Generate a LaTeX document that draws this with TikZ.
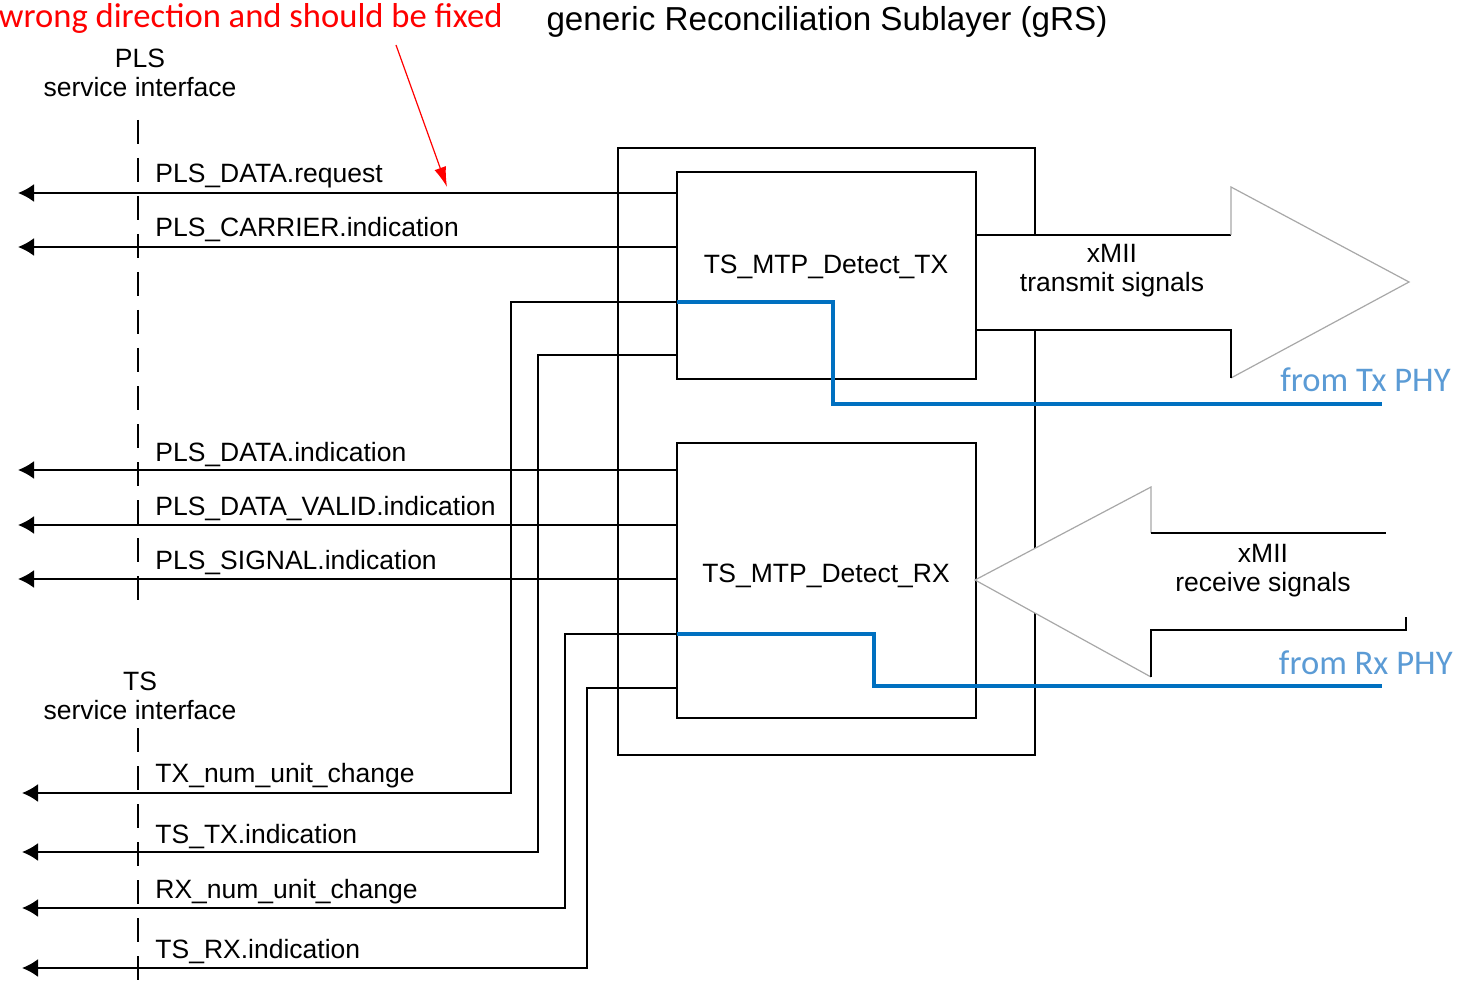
\documentclass[tikz,border=0pt]{standalone}
\usepackage{fontspec}
\usetikzlibrary{arrows.meta}
\newfontfamily\arialf{Liberation Sans}
\newfontfamily\calf{Carlito}
\newcommand\labfont{\arialf\fontsize{13.25}{14.5}\selectfont}
\newcommand\titfont{\arialf\fontsize{16.6}{19}\selectfont}
\newcommand\notefont{\calf\fontsize{17.3}{20}\selectfont}
\definecolor{lineblue}{HTML}{0070C0}
\definecolor{textblue}{HTML}{5B9BD5}
\definecolor{edgegray}{HTML}{A8A8A8}
\tikzset{
  lbl/.style={font=\labfont, inner sep=0pt, anchor=base west},
  ctr/.style={font=\labfont, inner sep=0pt, align=center},
  sig/.style={line width=1pt, -{Latex[length=8pt,width=9pt]}},
  wire/.style={line width=1pt},
  bluewire/.style={line width=1.7pt, color=lineblue},
  blk/.style={draw, line width=1pt, inner sep=0pt, minimum width=149.5pt},
  grayedge/.style={line width=0.6pt, color=edgegray},
  dashv/.style={line width=1pt, dash pattern=on 12pt off 7pt},
}
\begin{document}
\begin{tikzpicture}[x=0.5pt,y=-0.5pt]
\useasboundingbox (0,0) rectangle (1460,989);

% outer frame
\draw[wire] (618,148) rectangle (1035,755);

% arrow bodies (white fill hides the frame)
\fill[white] (976,235) -- (1231,235) -- (1231,187) -- (1409,282) -- (1231,378) -- (1231,330) -- (976,330) -- cycle;
\fill[white] (975,580) -- (1151,487) -- (1151,533) -- (1400,533) -- (1400,630) -- (1151,630) -- (1151,677) -- cycle;

% blocks
\node[blk, minimum height=103.5pt] (txbox) at (826.5,275.5) {};
\node[blk, minimum height=137.5pt] (rxbox) at (826.5,580.5) {};
\node[font=\labfont, inner sep=0pt] (txlbl) at (826,267) {TS\_MTP\_Detect\_TX};
\node[font=\labfont, inner sep=0pt] (rxlbl) at (826,576) {TS\_MTP\_Detect\_RX};

% arrow outlines
\draw[wire] (976,235) -- (1231,235);
\draw[grayedge] (1231,235) -- (1231,187) -- (1409,282) -- (1231,378);
\draw[wire] (1231,378) -- (1231,330) -- (976,330);
\draw[grayedge] (1151,533) -- (1151,487) -- (975,580) -- (1151,677);
\draw[wire] (1151,533) -- (1386,533);
\draw[wire] (1151,677) -- (1151,630) -- (1406,630) -- (1406,617);

% dashed service-interface line
\draw[dashv] (138,120) -- (138,605);
\draw[dashv] (138,728) -- (138,989);

% arrow tip coordinates
\coordinate (p1) at (18,193);
\coordinate (p2) at (18,247);
\coordinate (p3) at (18,470);
\coordinate (p4) at (18,525);
\coordinate (p5) at (18,579);
\coordinate (q1) at (22,793);
\coordinate (q2) at (22,852);
\coordinate (q3) at (22,908);
\coordinate (q4) at (22,968);

% PLS signals
\draw[sig] (txbox.west |- p1) -- (p1);
\draw[sig] (txbox.west |- p2) -- (p2);
\draw[sig] (rxbox.west |- p3) -- (p3);
\draw[sig] (rxbox.west |- p4) -- (p4);
\draw[sig] (rxbox.west |- p5) -- (p5);

% TS signals
\coordinate (s1) at (677,302);
\coordinate (s2) at (677,355);
\coordinate (s3) at (677,634);
\coordinate (s4) at (677,688);
\draw[sig] (s1) -- (511,302) -- (511,793) -- (q1);
\draw[sig] (s2) -- (538,355) -- (538,852) -- (q2);
\draw[sig] (s3) -- (565,634) -- (565,908) -- (q3);
\draw[sig] (s4) -- (587,688) -- (587,968) -- (q4);

% blue PHY lines
\coordinate (e1) at (1382,404);
\coordinate (e2) at (1382,686);
\draw[bluewire] (s1) -- (833,302) -- (833,404) -- (e1);
\draw[bluewire] (s3) -- (874,634) -- (874,686) -- (e2);

% labels
\node[lbl] (l1) at (155,183) {PLS\_DATA.request};
\node[lbl] (l2) at (155,237) {PLS\_CARRIER.indication};
\node[lbl] (l3) at (155,461) {PLS\_DATA.indication};
\node[lbl] (l4) at (155,515) {PLS\_DATA\_VALID.indication};
\node[lbl] (l5) at (155,569) {PLS\_SIGNAL.indication};
\node[lbl] (l6) at (155,782) {TX\_num\_unit\_change};
\node[lbl] (l7) at (155,843) {TS\_TX.indication};
\node[lbl] (l8) at (155,898) {RX\_num\_unit\_change};
\node[lbl] (l9) at (155,958) {TS\_RX.indication};

\node[ctr] (plsif) at (140,73) {PLS\\service interface};
\node[ctr] (tsif) at (140,696) {TS\\service interface};
\node[ctr] (xtx) at (1112,271) {xMII\\transmit signals};
\node[ctr] (xrx) at (1263,571) {xMII\\receive signals};

\node[font=\titfont, inner sep=0pt] (title) at (827,22) {generic Reconciliation Sublayer (gRS)};

\node[font=\notefont, text=red, inner sep=0pt, anchor=east] (note) at (503,18) {wrong direction and should be fixed};
\coordinate (n0) at (396,45);
\coordinate (n1) at (447,187);
\draw[red, line width=0.6pt, -{Latex[length=10pt,width=6pt]}] (n0) -- (n1);

\node[font=\notefont, text=textblue, inner sep=0pt, anchor=east] (ftx) at (1451,380) {from Tx PHY};
\node[font=\notefont, text=textblue, inner sep=0pt, anchor=east] (frx) at (1453,663) {from Rx PHY};
\end{tikzpicture}
\end{document}
